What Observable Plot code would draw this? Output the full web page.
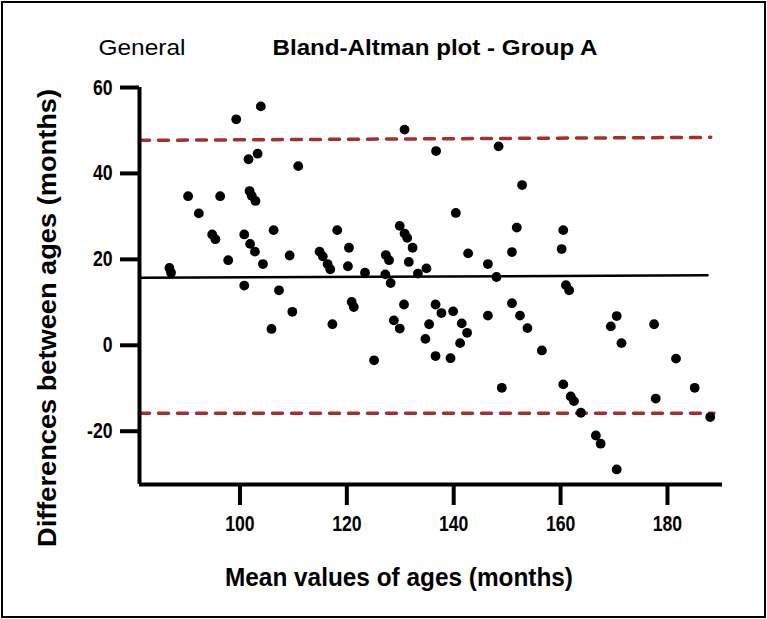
<!DOCTYPE html>
<html>
<head>
<meta charset="utf-8">
<script src="https://cdn.jsdelivr.net/npm/d3@7"></script>
<script src="https://cdn.jsdelivr.net/npm/@observablehq/plot@0.6"></script>
<style>
  html, body { margin: 0; padding: 0; background: #fff; }
  #wrap { position: relative; width: 767px; height: 619px; }
  #border { position: absolute; left: 1px; top: 1px; width: 761px; height: 613px; border: 2px solid #000; pointer-events: none; }
</style>
</head>
<body>
<div id="wrap"><div id="chart"></div><div id="border"></div></div>
<script>
// Mean of the two age estimates (months)
const meanAges = [
  86.8, 87.1, 90.3, 92.3, 94.8, 95.4, 96.3, 97.8, 99.3, 100.8,
  100.8, 101.6, 101.8, 102.2, 102.9, 101.9, 102.8, 103.3, 103.9, 104.3,
  105.9, 106.3, 107.3, 109.3, 109.8, 110.9, 114.9, 115.5, 116.4, 116.9,
  117.3, 118.2, 120.4, 120.2, 120.9, 121.3, 123.4, 125.1, 127.3, 127.9,
  127.2, 128.2, 128.8, 129.9, 129.9, 130.7, 130.8, 131.3, 130.8, 131.6,
  132.3, 133.3, 134.9, 134.7, 135.4, 136.7, 136.6, 137.7, 136.6, 139.4,
  139.9, 140.4, 141.5, 142.5, 141.2, 142.7, 146.4, 146.4, 148.0, 148.4,
  149.0, 150.9, 150.9, 151.8, 152.4, 152.8, 153.8, 156.5, 160.2, 160.5,
  161.0, 161.6, 160.5, 161.9, 162.5, 163.8, 166.6, 167.5, 170.5, 169.4,
  170.5, 171.4, 177.5, 177.8, 181.6, 185.1, 188.0
];
// Difference between the two age estimates (months)
const differences = [
  18.0, 16.9, 34.7, 30.7, 25.8, 24.7, 34.7, 19.8, 52.6, 25.8,
  13.9, 43.3, 35.9, 34.8, 33.6, 23.6, 21.8, 44.6, 55.6, 18.9,
  3.8, 26.8, 12.8, 20.9, 7.8, 41.7, 21.8, 20.7, 18.9, 17.7,
  4.9, 26.8, 22.7, 18.4, 10.1, 8.9, 16.9, -3.5, 21.0, 19.8,
  16.5, 14.5, 5.8, 3.9, 27.8, 9.5, 26.0, 25.0, 50.2, 19.4,
  22.7, 16.7, 17.9, 1.5, 4.9, 45.2, 9.5, 7.5, -2.5, -3.0,
  7.9, 30.8, 5.1, 2.9, 0.5, 21.4, 18.9, 6.9, 15.9, 46.3,
  -9.9, 21.7, 9.8, 27.4, 6.9, 37.3, 4.0, -1.2, 22.4, 26.8,
  14.0, 12.8, -9.1, -11.9, -13.0, -15.7, -21.0, -22.9, -28.9, 4.4,
  6.8, 0.5, 4.9, -12.4, -3.1, -9.9, -16.7
];
// Reference lines (mean bias and limits of agreement), as end points
const meanBias   = [{x: 81.2, y: 15.7}, {x: 187.5, y: 16.3}];
const upperLimit = [{x: 81.2, y: 47.7}, {x: 188.1, y: 48.4}];
const lowerLimit = [{x: 81.2, y: -15.8}, {x: 188.7, y: -15.8}];

const xDomain = [81.2, 190.3];
const yDomain = [-32.4, 60];
const xTicks = [100, 120, 140, 160, 180];
const yTicks = [-20, 0, 20, 40, 60];

const titleText = "Bland-Altman plot - Group A";
const cornerText = "General";
const xLabel = "Mean values of ages (months)";
const yLabel = "Differences between ages (months)";

const points = meanAges.map((m, i) => ({mean: m, diff: differences[i]}));

const sans = "'Liberation Sans', Arial, sans-serif";

const chart = Plot.plot({
  width: 767,
  height: 619,
  marginLeft: 139,
  marginRight: 45,
  marginTop: 87,
  marginBottom: 135,
  style: {background: "white", color: "black", overflow: "visible"},
  x: {domain: xDomain},
  y: {domain: yDomain},
  marks: [
    Plot.line(upperLimit, {x: "x", y: "y", stroke: "#a3302f", strokeWidth: 3.5, strokeDasharray: "10,9"}),
    Plot.line(lowerLimit, {x: "x", y: "y", stroke: "#a3302f", strokeWidth: 3.5, strokeDasharray: "10,9"}),
    Plot.line(meanBias, {x: "x", y: "y", stroke: "black", strokeWidth: 2.5}),
    Plot.dot(points, {x: "mean", y: "diff", r: 4.9, fill: "black", stroke: "none"}),
    Plot.ruleX([xDomain[0]], {stroke: "black", strokeWidth: 4}),
    Plot.ruleY([yDomain[0]], {stroke: "black", strokeWidth: 4}),
    Plot.axisX({ticks: xTicks, tickSize: 21, strokeWidth: 4, tickPadding: 10, label: null, className: "narrow",
      fontSize: 22, fontWeight: "bold", fontFamily: sans}),
    Plot.axisY({ticks: yTicks, tickSize: 19, strokeWidth: 4, tickPadding: 8, label: null, className: "narrow",
      tickFormat: d => String(d), fontSize: 22, fontWeight: "bold", fontFamily: sans}),
    Plot.text([titleText], {frameAnchor: "top", dx: 4, dy: -40, textAnchor: "middle", lineAnchor: "middle",
      fontSize: 22, fontWeight: "bold", fontFamily: sans, fill: "black", className: "fit-325"}),
    Plot.text([cornerText], {frameAnchor: "top-left", dx: -41, dy: -40, textAnchor: "start", lineAnchor: "middle",
      fontSize: 22, fontFamily: sans, fill: "black", className: "fit-87"}),
    Plot.text([xLabel], {frameAnchor: "bottom", dx: -32, dy: 93, textAnchor: "middle", lineAnchor: "middle",
      fontSize: 25, fontWeight: "bold", fontFamily: sans, fill: "black", className: "fit-348"}),
    Plot.text([yLabel], {frameAnchor: "left", dx: -92, dy: 32, rotate: -90, textAnchor: "middle", lineAnchor: "middle",
      fontSize: 26, fontWeight: "bold", fontFamily: sans, fill: "black", className: "fit-458"})
  ]
});
document.getElementById("chart").appendChild(chart);

// Emulate the condensed typeface of the original
d3.select(chart).selectAll("g.narrow text").each(function () {
  const w = this.getComputedTextLength();
  this.setAttribute("textLength", (w * 0.8).toFixed(1));
  this.setAttribute("lengthAdjust", "spacingAndGlyphs");
});
[["fit-325", 325], ["fit-87", 87], ["fit-348", 348], ["fit-458", 458]].forEach(([cls, len]) => {
  d3.select(chart).selectAll(`g.${cls} text`).each(function () {
    this.setAttribute("textLength", len);
    this.setAttribute("lengthAdjust", "spacingAndGlyphs");
  });
});
</script>
</body>
</html>
